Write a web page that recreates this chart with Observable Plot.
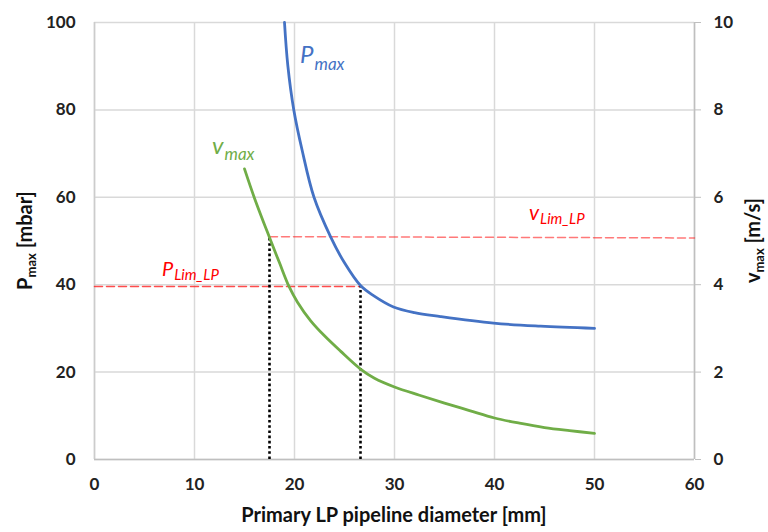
<!DOCTYPE html>
<html><head><meta charset="utf-8">
<script src="https://cdn.jsdelivr.net/npm/d3@7"></script>
<script src="https://cdn.jsdelivr.net/npm/@observablehq/plot@0.6"></script>
<style>body{margin:0;background:#fff} #chart{width:768px;height:532px}</style>
</head><body><div id="chart"></div>
<script>
// ---- data ----
const diameterP = [19.0, 19.33, 19.93, 20.77, 21.95, 23.6, 25.0, 26.6, 27.9, 29.9, 32.0, 34.6, 39.9, 44.6, 50.0];
const pMax      = [100, 90.2, 80, 70.7, 60, 51, 45, 39.8, 37.5, 34.9, 33.6, 32.7, 31.2, 30.5, 30.0];
const diameterV = [15.0, 16.0, 17.5, 18.5, 19.45, 20.3, 21.6, 23.0, 24.6, 26.6, 28.0, 30.0, 32.5, 35.0, 37.5, 40.0, 42.5, 45.0, 47.5, 50.0];
const vMax      = [6.65, 5.98, 5.08, 4.5, 3.96, 3.6, 3.18, 2.83, 2.48, 2.07, 1.86, 1.66, 1.47, 1.29, 1.12, 0.95, 0.83, 0.73, 0.66, 0.60];
const pLimX = [0, 26.6];
const pLimY = [39.6, 39.6];
const vLimX = [17.5, 60];
const vLimY = [5.10, 5.07];
const dropX   = [17.5, 26.6];
const dropTop = [51.0, 39.6];   // in mbar-scale units (v_lim*10, P_lim)
const xTicks = [0, 10, 20, 30, 40, 50, 60];
const pTicks = [0, 20, 40, 60, 80, 100];
const vTicks = [0, 2, 4, 6, 8, 10];
const vToP = 10; // right axis (0–10 m/s) shares the left axis (0–100 mbar) range

const pData = diameterP.map((d, i) => ({d, p: pMax[i]}));
const vData = diameterV.map((d, i) => ({d, v: vMax[i]}));
const pLimData = pLimX.map((d, i) => ({d, p: pLimY[i]}));
const vLimData = vLimX.map((d, i) => ({d, v: vLimY[i]}));
const drops = dropX.map((d, i) => ({d, top: dropTop[i]}));

const FONT = "Lato, 'Open Sans', sans-serif";
const chart = Plot.plot({
  width: 768, height: 532,
  marginLeft: 94, marginRight: 74, marginTop: 22, marginBottom: 73,
  x: {domain: [0, 60]},
  y: {domain: [0, 100]},
  style: {fontFamily: FONT, fontSize: "17px", fontWeight: "bold", color: "#222", background: "#fff"},
  marks: [
    Plot.gridX(xTicks, {stroke: "#d9d9d9", strokeOpacity: 1, strokeWidth: 1.5}),
    Plot.gridY(pTicks, {stroke: "#d9d9d9", strokeOpacity: 1, strokeWidth: 1.5}),
    Plot.ruleX([0], {stroke: "#cccccc", strokeWidth: 1.5}),
    Plot.ruleX([60], {stroke: "#bfbfbf", strokeWidth: 1.5}),
    Plot.ruleY([0], {stroke: "#bfbfbf", strokeWidth: 1.5}),
    Plot.axisX(xTicks, {tickSize: 0, tickPadding: 18, label: null}),
    Plot.axisY(pTicks, {anchor: "left", tickSize: 0, tickPadding: 19, label: null}),
    Plot.axisY(pTicks, {anchor: "right", tickSize: 6, tickPadding: 13, label: null,
      stroke: "#bfbfbf", tickFormat: (d, i) => String(vTicks[i])}),
    // limit lines
    Plot.line(pLimData, {x: "d", y: "p", stroke: "#ff2020", strokeOpacity: 0.8, strokeWidth: 1.5, strokeDasharray: "8,4"}),
    Plot.line(vLimData, {x: "d", y: d => d.v * vToP, stroke: "#ff2020", strokeOpacity: 0.6, strokeWidth: 1.5, strokeDasharray: "8,4"}),
    // dotted drop lines
    Plot.ruleX(drops, {x: "d", y1: 0, y2: "top", stroke: "#000", strokeWidth: 2.6, strokeDasharray: "2.6,2.6"}),
    // curves
    Plot.line(pData, {x: "d", y: "p", stroke: "#4472C4", strokeWidth: 2.8, curve: "catmull-rom"}),
    Plot.line(vData, {x: "d", y: d => d.v * vToP, stroke: "#70AD47", strokeWidth: 2.8, curve: "catmull-rom"})
  ]
});
document.getElementById("chart").appendChild(chart);

// ---- labels with subscripts (real text) ----
const svg = d3.select(chart);
const sx = chart.scale("x"), sy = chart.scale("y");
function subLabel(x, y, main, sub, color, mainSize, subSize, shift) {
  const t = svg.append("text")
    .attr("x", sx.apply(x)).attr("y", sy.apply(y)).attr("text-anchor", "start")
    .attr("fill", color).attr("font-family", FONT).attr("font-style", "italic").attr("font-weight", "normal");
  t.append("tspan").attr("font-size", mainSize).text(main);
  t.append("tspan").attr("font-size", subSize).attr("dy", shift).attr("dx", 1).text(sub);
}
subLabel(20.6, 90.6, "P", "max", "#4472C4", 24, 17, 7);
subLabel(11.8, 69.8, "v", "max", "#70AD47", 24, 17, 6);
subLabel(6.8, 41.9, "P", "Lim_LP", "#ff0000", 20, 15, 4);
subLabel(43.5, 54.7, "v", "Lim_LP", "#ff0000", 21, 15, 4);

// axis titles
function axisTitle(cx, cy, main, sub, rest) {
  const t = svg.append("text")
    .attr("transform", `translate(${cx},${cy}) rotate(-90)`)
    .attr("text-anchor", "middle").attr("dy", "0.35em")
    .attr("fill", "#111").attr("font-family", FONT).attr("font-weight", "bold").attr("font-size", 20);
  t.append("tspan").text(main);
  t.append("tspan").attr("font-size", 13).attr("dy", 4).text(sub);
  t.append("tspan").attr("dy", -4).text(rest);
}
axisTitle(25, 240.5, "P", "max", " [mbar]");
axisTitle(753, 240.5, "v", "max", " [m/s]");
svg.append("text")
  .attr("x", (sx.apply(0) + sx.apply(60)) / 2).attr("y", 522)
  .attr("text-anchor", "middle").attr("fill", "#111")
  .attr("font-family", FONT).attr("font-weight", "bold").attr("font-size", 20)
  .text("Primary LP pipeline diameter [mm]");
</script>
</body></html>
